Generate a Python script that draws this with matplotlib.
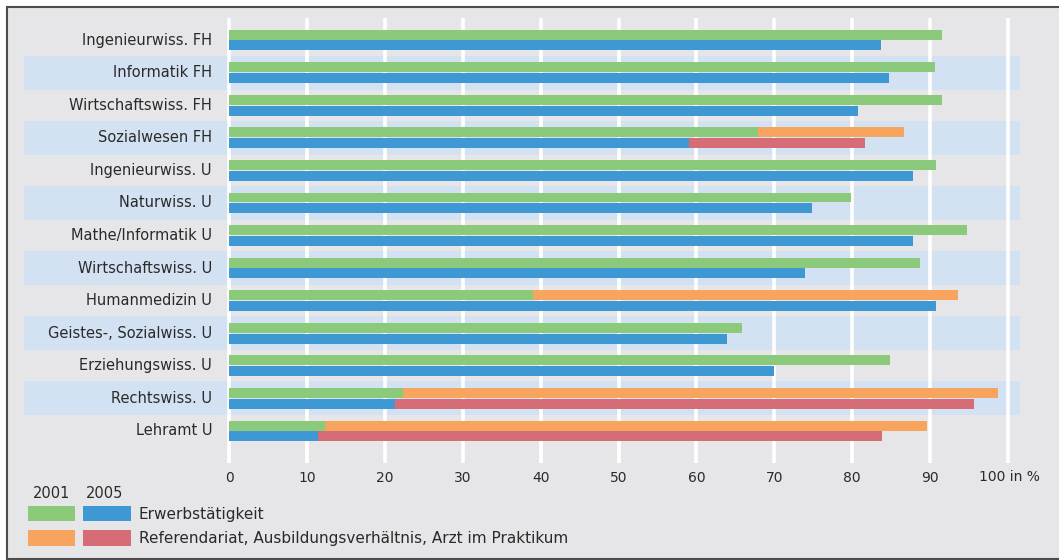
import matplotlib
matplotlib.use("Agg")
import matplotlib.pyplot as plt
from matplotlib.patches import Rectangle

categories = ["Ingenieurwiss. FH", "Informatik FH", "Wirtschaftswiss. FH", "Sozialwesen FH",
              "Ingenieurwiss. U", "Naturwiss. U", "Mathe/Informatik U", "Wirtschaftswiss. U",
              "Humanmedizin U", "Geistes-, Sozialwiss. U", "Erziehungswiss. U", "Rechtswiss. U",
              "Lehramt U"]
# 2001
erwerb_2001 = [91.5, 90.6, 91.5, 67.9, 90.7, 79.8, 94.7, 88.7, 39.0, 65.9, 84.8, 22.3, 12.3]
ref_2001_total = [None, None, None, 86.6, None, None, None, None, 93.6, None, None, 98.7, 89.6]
# 2005
erwerb_2005 = [83.7, 84.7, 80.7, 59.1, 87.8, 74.9, 87.8, 73.9, 90.7, 63.9, 69.9, 21.3, 11.4]
ref_2005_total = [None, None, None, 81.7, None, None, None, None, None, None, None, 95.6, 83.8]

xticks = [0, 10, 20, 30, 40, 50, 60, 70, 80, 90]
years = ["2001", "2005"]
legend_labels = ["Erwerbstätigkeit", "Referendariat, Ausbildungsverhältnis, Arzt im Praktikum"]

GREEN = "#8bca7a"
BLUE = "#3d98d4"
ORANGE = "#f7a55e"
RED = "#d66c75"
BAND = "#d3e2f2"
BG = "#e6e6e8"
TXT = "#2a2a2a"

W, H = 1059, 560
fig = plt.figure(figsize=(W / 100, H / 100), dpi=100)
fig.patch.set_facecolor("white")

def fx(px):
    return px / W

def fy(py):
    return 1 - py / H

# background frame
fig.patches.append(Rectangle((fx(6.5), fy(558.5)), fx(1080) - fx(6.5), fy(6.5) - fy(558.5),
                             transform=fig.transFigure, facecolor=BG, edgecolor="#4d4d4d",
                             linewidth=1.5, zorder=-5))

# axes: pixel 24..1020 horizontally, 18..463 vertically
x0_px, scale = 229.0, 7.79
left_px, right_px = 24, 1020
top_px, bot_px = 18, 463
row0_px, pitch = 40.0, 32.58
ax = fig.add_axes([fx(left_px), fy(bot_px), fx(right_px) - fx(left_px), fy(top_px) - fy(bot_px)])
ax.set_zorder(1)
ax.set_facecolor("none")
ax.set_xlim((left_px - x0_px) / scale, (right_px - x0_px) / scale)
ax.set_ylim((bot_px - row0_px) / pitch, (top_px - row0_px) / pitch)
for s in ax.spines.values():
    s.set_visible(False)

n = len(categories)
for i in range(n):
    if i % 2 == 1:
        ax.axhspan(i - 0.52, i + 0.52, color=BAND, zorder=0.5, lw=0)

ylo, yhi = ax.get_ylim()
ax.vlines(xticks + [100], yhi, ylo, color="white", lw=2.6, zorder=1)

h = 0.305
off = 0.165
for i in range(n):
    ax.barh(i - off, erwerb_2001[i], height=h, color=GREEN, zorder=2)
    if ref_2001_total[i] is not None:
        ax.barh(i - off, ref_2001_total[i] - erwerb_2001[i], left=erwerb_2001[i], height=h,
                color=ORANGE, zorder=2)
    ax.barh(i + off, erwerb_2005[i], height=h, color=BLUE, zorder=2)
    if ref_2005_total[i] is not None:
        ax.barh(i + off, ref_2005_total[i] - erwerb_2005[i], left=erwerb_2005[i], height=h,
                color=RED, zorder=2)
    ax.text((212 - x0_px) / scale, i, categories[i], ha="right", va="center",
            fontsize=10.5, color=TXT)

ax.set_yticks([])
ax.set_xticks(xticks)
ax.set_xticklabels([str(t) for t in xticks], fontsize=10, color=TXT)
ax.tick_params(axis="x", length=0, pad=6)
ax.text((979 - x0_px) / scale, (477 - row0_px) / pitch, "100 in %", ha="left", va="center",
        fontsize=10, color=TXT, clip_on=False)

# legend
fig.text(fx(33), fy(493), years[0], ha="left", va="center", fontsize=10.5, color=TXT)
fig.text(fx(86), fy(493), years[1], ha="left", va="center", fontsize=10.5, color=TXT)
for (x1, x2), (y1, y2), c in [((27.7, 75), (505.7, 520.7), GREEN), ((83.3, 130.7), (505.7, 520.7), BLUE),
                               ((27.7, 75), (530, 545.7), ORANGE), ((83.3, 130.7), (530, 545.7), RED)]:
    fig.patches.append(Rectangle((fx(x1), fy(y2)), fx(x2) - fx(x1), fy(y1) - fy(y2),
                                 transform=fig.transFigure, facecolor=c, edgecolor="none", zorder=1))
fig.text(fx(139), fy(515), legend_labels[0], ha="left", va="center", fontsize=11, color=TXT)
fig.text(fx(139), fy(538), legend_labels[1], ha="left", va="center", fontsize=11, color=TXT)

fig.savefig("out.png", dpi=100)
